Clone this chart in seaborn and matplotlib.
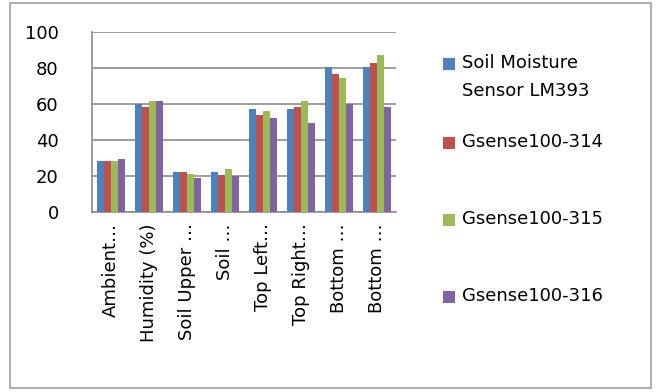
import matplotlib
matplotlib.use("Agg")
import matplotlib.pyplot as plt
from matplotlib.patches import Rectangle
import pandas as pd
import seaborn as sns

# chart data
categories = ["Ambient…", "Humidity (%)", "Soil Upper …", "Soil …",
              "Top Left…", "Top Right…", "Bottom …", "Bottom …"]
series_names = ["Soil Moisture\nSensor LM393", "Gsense100-314",
                "Gsense100-315", "Gsense100-316"]
lm393 = [28.3, 60.2, 22.0, 22.0, 57.2, 57.2, 80.7, 80.7]
gs314 = [28.3, 58.5, 22.0, 20.7, 54.0, 58.3, 76.5, 83.0]
gs315 = [28.3, 61.5, 21.0, 23.9, 56.1, 61.5, 74.3, 87.2]
gs316 = [29.4, 61.5, 18.7, 20.2, 52.0, 49.6, 60.2, 58.2]
colors = ["#4F81BD", "#C0504D", "#9BBB59", "#8064A2"]

# long form table for seaborn; category index keeps duplicate names apart
rows = []
for name, vals in zip(series_names, [lm393, gs314, gs315, gs316]):
    for i, v in enumerate(vals):
        rows.append({"pos": i, "series": name, "value": v})
df = pd.DataFrame(rows)

sns.set_style("white")
plt.rcParams["font.family"] = ["DejaVu Sans"]
plt.rcParams["text.color"] = "black"
plt.rcParams["xtick.color"] = "black"
plt.rcParams["ytick.color"] = "black"

W, H = 656, 392
fig = plt.figure(figsize=(W / 100, H / 100), dpi=100)
ax = fig.add_axes([92 / W, 1 - 212 / H, (396 - 92) / W, (212 - 32) / H])

sns.barplot(data=df, x="pos", y="value", hue="series", hue_order=series_names,
            palette=colors, width=0.72, gap=0, saturation=1, legend=False,
            linewidth=0, ax=ax, zorder=3)

ax.set_ylim(0, 100)
ax.set_yticks([0, 20, 40, 60, 80, 100])
ax.set_xlim(-0.5, len(categories) - 0.5)
ax.set_xticks(range(len(categories)))
ax.set_xticklabels(categories, rotation=90, va="top", ha="center")
ax.tick_params(axis="x", labelsize=13, length=0, pad=8)
ax.tick_params(axis="y", labelsize=13, length=0, pad=24)
ax.set_xlabel("")
ax.set_ylabel("")
ax.yaxis.grid(True, color="#8c8c8c", linewidth=1.2, zorder=0)
ax.set_axisbelow(True)
for side in ["top", "right"]:
    ax.spines[side].set_visible(False)
for side in ["left", "bottom"]:
    ax.spines[side].set_color("#8c8c8c")
    ax.spines[side].set_linewidth(1.2)

# legend drawn by hand, Excel style spacing
legend_y = [64, 143, 220, 297]
for name, col, y in zip(series_names, colors, legend_y):
    fig.patches.append(Rectangle((443 / W, 1 - (y + 6) / H), 12 / W, 12 / H,
                                 transform=fig.transFigure, facecolor=col,
                                 edgecolor="none"))
    fig.text(462 / W, 1 - (y - 10) / H, name, fontsize=13, va="top", ha="left",
             linespacing=1.75)

# outer chart border
fig.patches.append(Rectangle((10 / W, 1 - 388 / H), 641 / W, 385 / H,
                             transform=fig.transFigure, facecolor="none",
                             edgecolor="#a0a0a0", linewidth=1.2))

fig.savefig("out.png", dpi=100)
